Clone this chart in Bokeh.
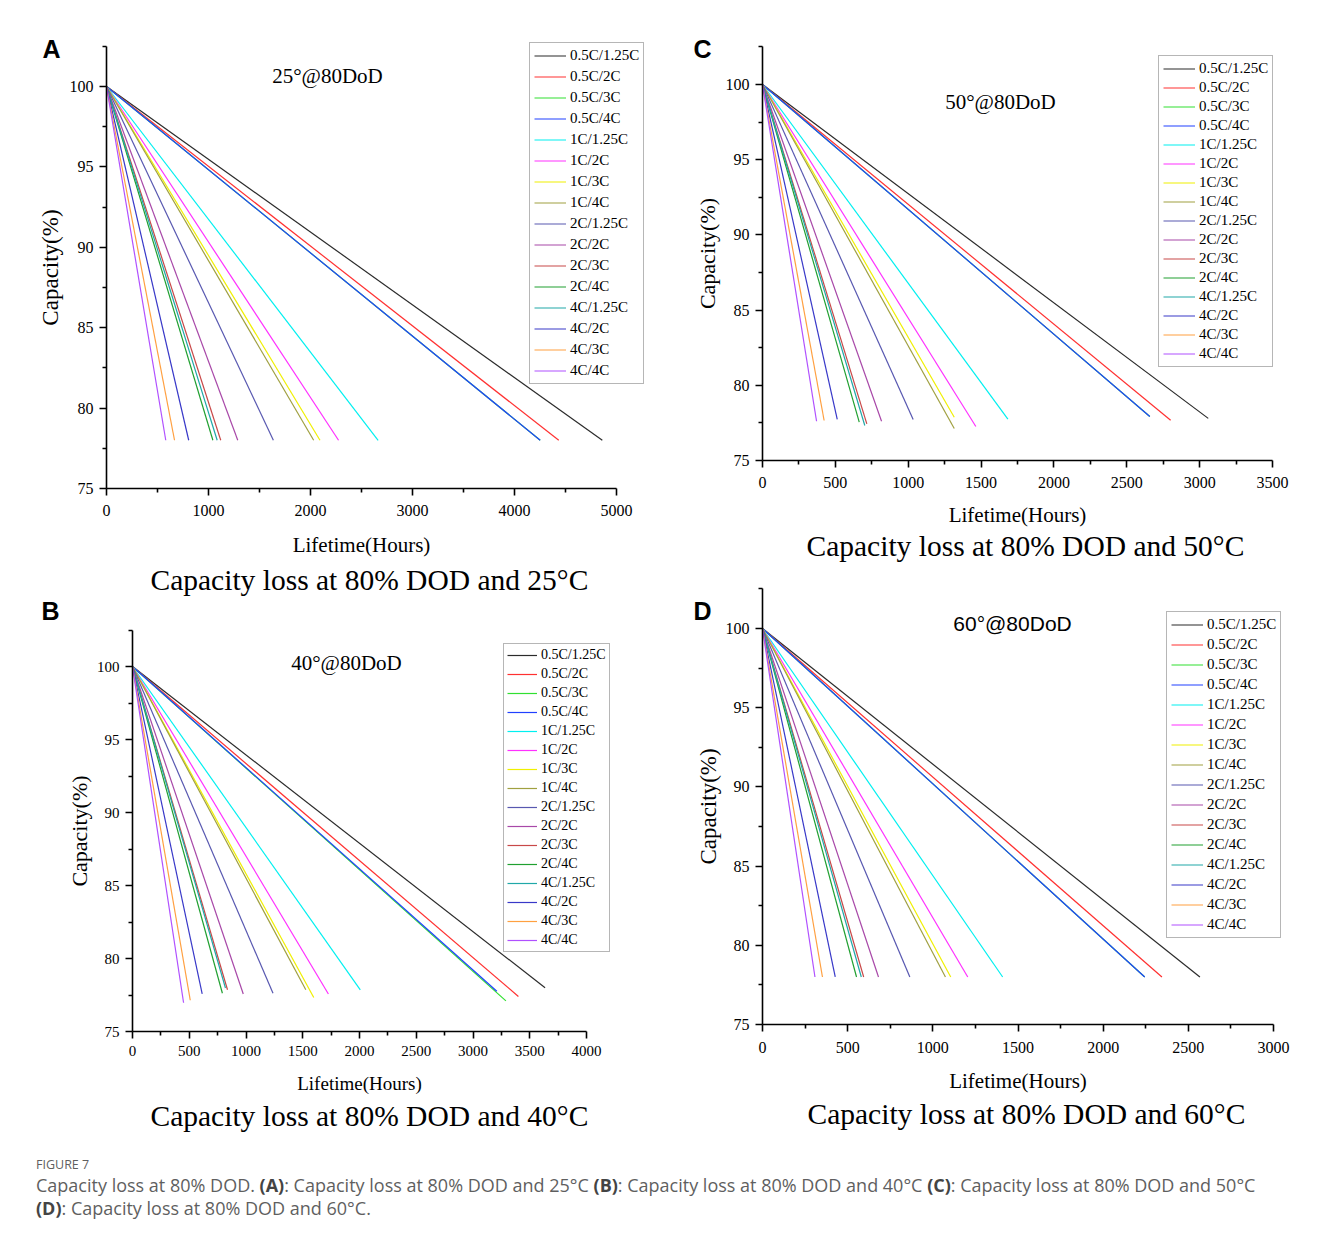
from bokeh.plotting import figure
from bokeh.models import Range1d, FixedTicker, Title, Label, Div
from bokeh.layouts import column, row
from bokeh.embed import file_html
from bokeh.resources import INLINE

# ---------------- data ----------------
SERIES = ["0.5C/1.25C", "0.5C/2C", "0.5C/3C", "0.5C/4C",
          "1C/1.25C", "1C/2C", "1C/3C", "1C/4C",
          "2C/1.25C", "2C/2C", "2C/3C", "2C/4C",
          "4C/1.25C", "4C/2C", "4C/3C", "4C/4C"]

START_CAP = 100

# Panel A: 25 C  (end of life in hours, capacity at end)
A_END_T = [4861, 4434, 4252, 4252, 2663, 2275, 2093, 2031, 1636, 1287, 1120, 1043, 1085, 806, 667, 581]
A_END_CAP = [78, 78, 78, 78, 78, 78, 78, 78, 78, 78, 78, 78, 78, 78, 78, 78]

# Panel B: 40 C
B_END_T = [3635, 3400, 3290, 3210, 2007, 1726, 1597, 1527, 1238, 976, 837, 792, 819, 614, 509, 450]
B_END_CAP = [78.0, 77.4, 77.1, 77.76, 77.85, 77.57, 77.33, 77.86, 77.62, 77.57, 77.86, 77.62, 77.98, 77.57, 77.14, 76.97]

# Panel C: 50 C
C_END_T = [3059, 2801, 2658, 2658, 1684, 1464, 1316, 1316, 1034, 817, 716, 664, 702, 513, 423, 371]
C_END_CAP = [77.8, 77.68, 77.93, 77.93, 77.75, 77.26, 77.88, 77.13, 77.73, 77.61, 77.44, 77.55, 77.33, 77.73, 77.66, 77.61]

# Panel D: 60 C
D_END_T = [2568, 2345, 2244, 2244, 1410, 1205, 1105, 1074, 865, 681, 594, 552, 580, 427, 352, 308]
D_END_CAP = [78, 78, 78, 78, 78, 78, 78, 78, 78, 78, 78, 78, 78, 78, 78, 78]

# ticks
Y_TICKS = [75, 80, 85, 90, 95, 100]
Y_MINOR = [77.5, 82.5, 87.5, 92.5, 97.5, 102.5]
Y_MIN, Y_MAX = 75, 102.5
A_XTICKS = [0, 1000, 2000, 3000, 4000, 5000]
A_XMINOR = [500, 1500, 2500, 3500, 4500]
B_XTICKS = [0, 500, 1000, 1500, 2000, 2500, 3000, 3500, 4000]
B_XMINOR = [250, 750, 1250, 1750, 2250, 2750, 3250, 3750]
C_XTICKS = [0, 500, 1000, 1500, 2000, 2500, 3000, 3500]
C_XMINOR = [250, 750, 1250, 1750, 2250, 2750, 3250]
D_XTICKS = [0, 500, 1000, 1500, 2000, 2500, 3000]
D_XMINOR = [250, 750, 1250, 1750, 2250, 2750]
A_XMAX, B_XMAX, C_XMAX, D_XMAX = 5000, 4000, 3500, 3000

TITLES = {"A": "Capacity loss at 80% DOD and 25°C",
          "B": "Capacity loss at 80% DOD and 40°C",
          "C": "Capacity loss at 80% DOD and 50°C",
          "D": "Capacity loss at 80% DOD and 60°C"}
INNER = {"A": "25°@80DoD", "B": "40°@80DoD", "C": "50°@80DoD", "D": "60°@80DoD"}

# ---------------- style / geometry ----------------
COLORS = ["#2b2b2b", "#ff3030", "#30e030", "#2040ff", "#00f0f0", "#ff30ff", "#f0f000", "#a0a040",
          "#5858b0", "#a848a8", "#c84848", "#20a030", "#20a8a8", "#3838c8", "#ffa040", "#b050ff"]
SERIF = "Liberation Serif"
SANS = "Liberation Sans"

# pixel geometry inside each figure: x0/x1 = pixel of x=0 / x=xmax, y75/y100 = pixel of 75 / 100,
# fr = frame right, fb = frame bottom (the title sits below the frame)
GEOM = {
    "A": dict(w=668, h=598, fr=655, y75=488, y100=86, fb=561, x0=106, x1=616,
              tick=16, xlab=21, ylab=23, lab_std=9, xl_stand=14, yl_stand=4, t_left=150,
              leg=(529, 44), leg_font=15, leg_row=17, leg_sp=4, leg_glyph=32, leg_pad=4,
              letter=(51, 48), inner=(327, 75), inner_font=SERIF),
    "B": dict(w=668, h=540, fr=615, y75=433, y100=68, fb=499, x0=132, x1=586,
              tick=15, xlab=19, ylab=22, lab_std=7, xl_stand=14, yl_stand=2, t_left=150,
              leg=(503, 47), leg_font=14, leg_row=16, leg_sp=3, leg_glyph=30, leg_pad=3,
              letter=(50, 12), inner=(346, 64), inner_font=SERIF),
    "C": dict(w=658, h=575, fr=630, y75=460, y100=84, fb=527, x0=94, x1=604,
              tick=16, xlab=21, ylab=22, lab_std=9, xl_stand=12, yl_stand=3, t_left=138,
              leg=(490, 57), leg_font=15, leg_row=17, leg_sp=2, leg_glyph=32, leg_pad=4,
              letter=(34, 48), inner=(332, 101), inner_font=SERIF),
    "D": dict(w=658, h=563, fr=630, y75=449, y100=53, fb=520, x0=94, x1=605,
              tick=16, xlab=21, ylab=23, lab_std=10, xl_stand=13, yl_stand=2, t_left=139,
              leg=(498, 38), leg_font=15, leg_row=17, leg_sp=3, leg_glyph=32, leg_pad=4,
              letter=(34, 35), inner=(344, 48), inner_font=SANS),
}

PANELS = {
    "A": (A_END_T, A_END_CAP, A_XTICKS, A_XMINOR, A_XMAX),
    "B": (B_END_T, B_END_CAP, B_XTICKS, B_XMINOR, B_XMAX),
    "C": (C_END_T, C_END_CAP, C_XTICKS, C_XMINOR, C_XMAX),
    "D": (D_END_T, D_END_CAP, D_XTICKS, D_XMINOR, D_XMAX),
}


def make_panel(key):
    tend, cend, xticks, xminor, xmax = PANELS[key]
    g = GEOM[key]
    n = len(SERIES)
    sx = (g["x1"] - g["x0"]) / xmax
    sy = (g["y75"] - g["y100"]) / (100 - Y_MIN)
    x_start = -g["x0"] / sx
    x_end = xmax + (g["fr"] - g["x1"]) / sx
    y_start = Y_MIN - (g["fb"] - g["y75"]) / sy
    y_end = Y_MIN + g["y75"] / sy

    def px(pxx, pxy):
        return (pxx - g["x0"]) / sx, Y_MIN + (g["y75"] - pxy) / sy

    p = figure(width=g["w"], height=g["h"], x_range=Range1d(x_start, x_end), y_range=Range1d(y_start, y_end),
               output_backend="svg", toolbar_location=None, title_location=None,
               min_border_left=0, min_border_right=g["w"] - g["fr"],
               min_border_top=0, min_border_bottom=g["h"] - g["fb"])
    p.frame_align = False
    p.outline_line_color = None
    p.background_fill_color = "white"
    p.border_fill_color = "white"
    p.xgrid.visible = False
    p.ygrid.visible = False

    for name, b, c, col in zip(SERIES, tend, cend, COLORS):
        p.line([0, b], [START_CAP, c], line_color=col, line_width=1.2, legend_label=name)

    p.xaxis.ticker = FixedTicker(ticks=xticks, minor_ticks=xminor)
    p.yaxis.ticker = FixedTicker(ticks=Y_TICKS, minor_ticks=Y_MINOR)
    p.xaxis.bounds = (0, xmax)
    p.yaxis.bounds = (Y_MIN, Y_MAX)
    p.yaxis.fixed_location = 0
    p.xaxis.fixed_location = Y_MIN
    p.xaxis.axis_label = "Lifetime(Hours)"
    p.yaxis.axis_label = "Capacity(%)"
    for ax in (p.xaxis[0], p.yaxis[0]):
        ax.axis_line_width = 1.6
        ax.axis_line_color = "black"
        ax.major_tick_line_width = 1.6
        ax.minor_tick_line_width = 1.6
        ax.major_tick_line_color = "black"
        ax.minor_tick_line_color = "black"
        ax.major_tick_in = 0
        ax.major_tick_out = 7
        ax.minor_tick_in = 0
        ax.minor_tick_out = 4
        ax.major_label_text_font = SERIF
        ax.major_label_text_font_size = f"{g['tick']}px"
        ax.major_label_text_color = "black"
        ax.axis_label_text_font = SERIF
        ax.axis_label_text_font_style = "normal"
        ax.axis_label_text_color = "black"
    p.xaxis.major_label_standoff = g["lab_std"]
    p.yaxis.major_label_standoff = 6
    p.xaxis.axis_label_text_font_size = f"{g['xlab']}px"
    p.yaxis.axis_label_text_font_size = f"{g['ylab']}px"
    p.xaxis.axis_label_standoff = g["xl_stand"]
    p.yaxis.axis_label_standoff = g["yl_stand"]

    p.add_layout(Title(text=TITLES[key], align="left", offset=g["t_left"], text_font=SERIF,
                       text_font_size="29.5px", text_font_style="normal", text_color="black",
                       standoff=0), "below")

    lx, ly = px(*g["letter"])
    p.add_layout(Label(x=lx, y=ly, text=key, text_font=SANS, text_font_style="bold",
                       text_font_size="25px", text_align="center", text_baseline="middle",
                       text_color="black"))
    ix, iy = px(*g["inner"])
    p.add_layout(Label(x=ix, y=iy, text=INNER[key], text_font=g["inner_font"],
                       text_font_size="21px", text_align="center", text_baseline="middle",
                       text_color="black"))

    # legend: given top-left pixel; convert to frame-relative bottom-left
    leg_h = 2 * g["leg_pad"] + n * g["leg_row"] + (n - 1) * g["leg_sp"]
    lg = p.legend[0]
    lg.location = (g["leg"][0], g["fb"] - g["leg"][1] - leg_h)
    lg.margin = 0
    lg.padding = g["leg_pad"]
    lg.spacing = g["leg_sp"]
    lg.glyph_width = g["leg_glyph"]
    lg.glyph_height = g["leg_row"]
    lg.label_height = g["leg_row"]
    lg.label_standoff = 4
    lg.label_text_font = SERIF
    lg.label_text_font_size = f"{g['leg_font']}px"
    lg.label_text_color = "black"
    lg.border_line_color = "#6e6e6e"
    lg.border_line_width = 1.5
    lg.background_fill_color = "white"
    lg.background_fill_alpha = 1.0
    return p


pA = make_panel("A")
pB = make_panel("B")
pC = make_panel("C")
pD = make_panel("D")

caption = Div(
    text=(
        "<div style=\"font-family:'Open Sans',sans-serif;color:#5f5f5f;padding:13px 0 0 31px;\">"
        "<div style=\"font-size:12.5px;line-height:18px;\">FIGURE 7</div>"
        "<div style=\"font-size:18px;line-height:23px;\">Capacity loss at 80% DOD. <b style='color:#444'>(A)</b>: "
        "Capacity loss at 80% DOD and 25°C <b style='color:#444'>(B)</b>: Capacity loss at 80% DOD and 40°C "
        "<b style='color:#444'>(C)</b>: Capacity loss at 80% DOD and 50°C<br>"
        "<b style='color:#444'>(D)</b>: Capacity loss at 80% DOD and 60°C.</div></div>"
    ),
    width=1326, height=90,
)

layout = column(row(column(pA, pB), column(pC, pD)), caption)

open("out.html", "w").write(file_html(layout, INLINE))
